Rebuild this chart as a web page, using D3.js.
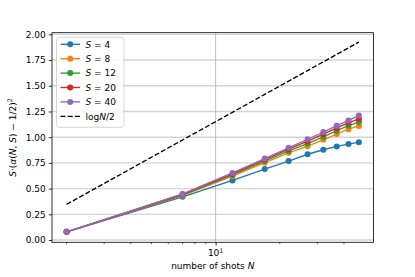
<!DOCTYPE html>
<html><head><meta charset="utf-8">
<script src="https://cdn.jsdelivr.net/npm/d3@7"></script>
<style>html,body{margin:0;padding:0;background:#fff;} svg{display:block;font-family:"DejaVu Sans",sans-serif;}</style>
</head><body><svg id="c" width="415" height="277"></svg>
<script>
const shots = [2, 7, 12, 17, 22, 27, 32, 37, 42, 47];
const seriesNames = ["4", "8", "12", "20", "40"];
const s4  = [0.08, 0.42, 0.58, 0.69, 0.768, 0.834, 0.878, 0.91, 0.933, 0.952];
const s8  = [0.08, 0.432, 0.622, 0.752, 0.848, 0.912, 0.975, 1.03, 1.078, 1.11];
const s12 = [0.08, 0.438, 0.633, 0.768, 0.866, 0.938, 1.003, 1.063, 1.112, 1.147];
const s20 = [0.08, 0.444, 0.643, 0.782, 0.884, 0.962, 1.03, 1.09, 1.14, 1.178];
const s40 = [0.08, 0.448, 0.652, 0.792, 0.897, 0.98, 1.05, 1.112, 1.163, 1.21];
const logHalf = [0.347, 0.973, 1.242, 1.417, 1.545, 1.648, 1.733, 1.805, 1.869, 1.925];
const yTicks = [0, 0.25, 0.5, 0.75, 1.0, 1.25, 1.5, 1.75, 2.0];
const colors = ["#1f77b4", "#ff7f0e", "#2ca02c", "#d62728", "#9467bd"];
const allSeries = [s4, s8, s12, s20, s40];

const svg = d3.select("#c");
const L = 52, R = 373.5, T = 32.7, B = 242.3;
const lmin = Math.log10(2), lmax = Math.log10(47), m = 0.05 * (lmax - lmin);
const x = d3.scaleLog().domain([Math.pow(10, lmin - m), Math.pow(10, lmax + m)]).range([L, R]);
const y = d3.scaleLinear().domain([-0.022, 2.016]).range([B, T]);

// grid
svg.append("g").selectAll("line").data(yTicks).join("line")
  .attr("x1", L).attr("x2", R).attr("y1", d => y(d)).attr("y2", d => y(d))
  .attr("stroke", "#d4d4d4").attr("stroke-width", 1.4);
svg.append("line").attr("x1", x(10)).attr("x2", x(10)).attr("y1", T).attr("y2", B)
  .attr("stroke", "#b0b0b0").attr("stroke-width", 0.8);

// axes
const xAxis = d3.axisBottom(x).tickValues([10]).tickSize(3.2).tickPadding(3).tickFormat(() => "");
const gx = svg.append("g").attr("transform", `translate(0,${B})`).call(xAxis);
gx.select(".domain").remove();
gx.selectAll(".tick line").attr("stroke", "#000").attr("stroke-width", 0.8);
const minor = [2,3,4,5,6,7,8,9,20,30,40];
svg.append("g").selectAll("line").data(minor).join("line")
  .attr("x1", d => x(d)).attr("x2", d => x(d)).attr("y1", B).attr("y2", B + 1.8)
  .attr("stroke", "#000").attr("stroke-width", 0.6);
const xt = svg.append("text").attr("x", x(10)).attr("y", 256).attr("text-anchor", "middle")
  .attr("font-size", 9).attr("fill", "#000");
xt.append("tspan").text("10");
xt.append("tspan").attr("dy", -3.5).attr("font-size", 6.3).text("1");

const yAxis = d3.axisLeft(y).tickValues(yTicks).tickSize(3.2).tickPadding(3).tickFormat(d3.format(".2f"));
const gy = svg.append("g").attr("transform", `translate(${L},0)`).call(yAxis);
gy.select(".domain").remove();
gy.selectAll(".tick line").attr("stroke", "#000").attr("stroke-width", 0.8);
gy.selectAll(".tick text").attr("font-size", 9).attr("font-family", "DejaVu Sans").attr("fill", "#000");

// dashed line
const line = d3.line().x((d, i) => x(shots[i])).y(d => y(d));
svg.append("path").datum(logHalf).attr("d", line).attr("fill", "none")
  .attr("stroke", "#000").attr("stroke-width", 1.35).attr("stroke-dasharray", "5,2.2");

// series
allSeries.forEach((s, k) => {
  const g = svg.append("g");
  g.append("path").datum(s).attr("d", line).attr("fill", "none")
    .attr("stroke", colors[k]).attr("stroke-width", 1.35);
  g.selectAll("circle").data(s).join("circle")
    .attr("cx", (d, i) => x(shots[i])).attr("cy", d => y(d)).attr("r", 3).attr("fill", colors[k]);
});

// spines
svg.append("rect").attr("x", L).attr("y", T).attr("width", R - L).attr("height", B - T)
  .attr("fill", "none").attr("stroke", "#000").attr("stroke-width", 0.8);

// labels
const xl = svg.append("text").attr("x", (L + R) / 2).attr("y", 269).attr("text-anchor", "middle")
  .attr("font-size", 9).attr("fill", "#000");
xl.append("tspan").text("number of shots ");
xl.append("tspan").attr("font-style", "italic").text("N");

const yl = svg.append("text").attr("transform", `translate(15.5,${(T + B) / 2}) rotate(-90)`)
  .attr("text-anchor", "middle").attr("font-size", 9).attr("fill", "#000");
yl.append("tspan").attr("font-style", "italic").text("S");
yl.append("tspan").text("·(");
yl.append("tspan").attr("font-style", "italic").text("α");
yl.append("tspan").text("(");
yl.append("tspan").attr("font-style", "italic").text("N");
yl.append("tspan").text(", ");
yl.append("tspan").attr("font-style", "italic").text("S");
yl.append("tspan").text(") − 1/2)");
yl.append("tspan").attr("dy", -3.5).attr("font-size", 6.3).text("2");

// legend
const lg = svg.append("g");
lg.append("rect").attr("x", 56.5).attr("y", 37.3).attr("width", 67.5).attr("height", 90)
  .attr("rx", 2.5).attr("fill", "#fff").attr("fill-opacity", 0.8).attr("stroke", "#cccccc").attr("stroke-width", 0.8);
const rowY = i => 44.3 + i * 14.4;
seriesNames.forEach((nm, k) => {
  const yy = rowY(k);
  lg.append("line").attr("x1", 60.5).attr("x2", 80).attr("y1", yy).attr("y2", yy)
    .attr("stroke", colors[k]).attr("stroke-width", 1.35);
  lg.append("circle").attr("cx", 70.2).attr("cy", yy).attr("r", 3).attr("fill", colors[k]);
  const t = lg.append("text").attr("x", 85.5).attr("y", yy + 3.2).attr("font-size", 9).attr("fill", "#000");
  t.append("tspan").attr("font-style", "italic").text("S");
  t.append("tspan").text(" = " + nm);
});
{
  const yy = rowY(5);
  lg.append("line").attr("x1", 60.5).attr("x2", 80).attr("y1", yy).attr("y2", yy)
    .attr("stroke", "#000").attr("stroke-width", 1.35).attr("stroke-dasharray", "5,2.2");
  const t = lg.append("text").attr("x", 85.5).attr("y", yy + 3.2).attr("font-size", 9).attr("fill", "#000");
  t.append("tspan").text("log");
  t.append("tspan").attr("font-style", "italic").text("N");
  t.append("tspan").text("/2");
}
</script></body></html>
